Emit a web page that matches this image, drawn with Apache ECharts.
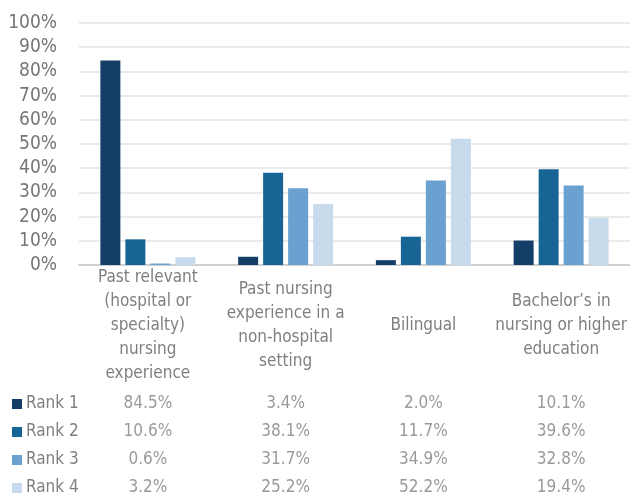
<!DOCTYPE html>
<html><head><meta charset="utf-8">
<script src="https://cdn.jsdelivr.net/npm/echarts@6/dist/echarts.min.js"></script>
<style>html,body{margin:0;padding:0;background:#fff}#c{width:630px;height:495px}</style>
</head><body><div id="c"></div>
<script>
const categories = [
  "Past relevant\n(hospital or\nspecialty)\nnursing\nexperience",
  "Past nursing\nexperience in a\nnon-hospital\nsetting",
  "Bilingual",
  "Bachelor\u2019s in\nnursing or higher\neducation"
];
const rankNames = ["Rank 1", "Rank 2", "Rank 3", "Rank 4"];
const rank1 = [84.5, 3.4, 2.0, 10.1];
const rank2 = [10.6, 38.1, 11.7, 39.6];
const rank3 = [0.6, 31.7, 34.9, 32.8];
const rank4 = [3.2, 25.2, 52.2, 19.4];
const yTicks = [0, 10, 20, 30, 40, 50, 60, 70, 80, 90, 100];
const colors = ["#143d67", "#186595", "#6aa1d1", "#c8dbed"];

const ranks = [rank1, rank2, rank3, rank4];
const FONT = '"Liberation Sans Narrow","DejaVu Sans Condensed","Roboto Condensed",sans-serif';
const GRAY = '#7f7f7f';

const chart = echarts.init(document.getElementById('c'), null, {renderer: 'canvas'});

const rich = {};
rankNames.forEach((n, i) => {
  rich['s' + i] = {width: 10, height: 10, backgroundColor: colors[i]};
});
rich.t = {fontFamily: FONT, fontSize: 17, color: GRAY, padding: [0, 0, 0, 4]};

const barSeries = ranks.map((vals, i) => ({
  name: rankNames[i], type: 'bar', xAxisIndex: 0, yAxisIndex: 0,
  data: vals, barWidth: 20, barGap: '25%',
  itemStyle: {color: colors[i]},
  silent: true
}));

const tableData = [];
ranks.forEach((vals, r) => vals.forEach((v, c) => tableData.push([c, r, v])));

chart.setOption({
  animation: false,
  grid: [
    {left: 79, right: 0, top: 23, height: 242, outerBoundsMode: 'none'},
    {left: 79, right: 0, top: 390, height: 112, outerBoundsMode: 'none'}
  ],
  xAxis: [
    {type: 'category', gridIndex: 0, data: categories,
     axisLine: {lineStyle: {color: '#d0d0d0', width: 2}},
     axisTick: {show: false},
     axisLabel: {interval: 0, fontFamily: FONT, fontSize: 17, color: GRAY, lineHeight: 24,
                 verticalAlign: 'middle', margin: 61, align: 'center'}},
    {type: 'category', gridIndex: 1, data: categories, show: false}
  ],
  yAxis: [
    {type: 'value', gridIndex: 0, min: 0, max: 100, interval: 10,
     axisLine: {show: false}, axisTick: {show: false},
     splitLine: {lineStyle: {color: '#e3e3e3', width: 1.5}},
     axisLabel: {fontFamily: FONT, fontSize: 19, color: '#767676', margin: 22,
                 formatter: v => yTicks.includes(v) ? v + '%' : ''}},
    {type: 'category', gridIndex: 1, data: rankNames, inverse: true,
     axisLine: {show: false}, axisTick: {show: false}, splitLine: {show: false},
     axisLabel: {align: 'left', margin: 67,
                 formatter: (v, i) => '{s' + i + '|}{t|' + v + '}', rich: rich}}
  ],
  series: barSeries.concat([{
    type: 'scatter', xAxisIndex: 1, yAxisIndex: 1, symbolSize: 0,
    data: tableData, silent: true,
    label: {show: true, position: 'inside', fontFamily: FONT, fontSize: 17, color: GRAY,
            formatter: p => p.value[2].toFixed(1) + '%'}
  }])
});
</script></body></html>
